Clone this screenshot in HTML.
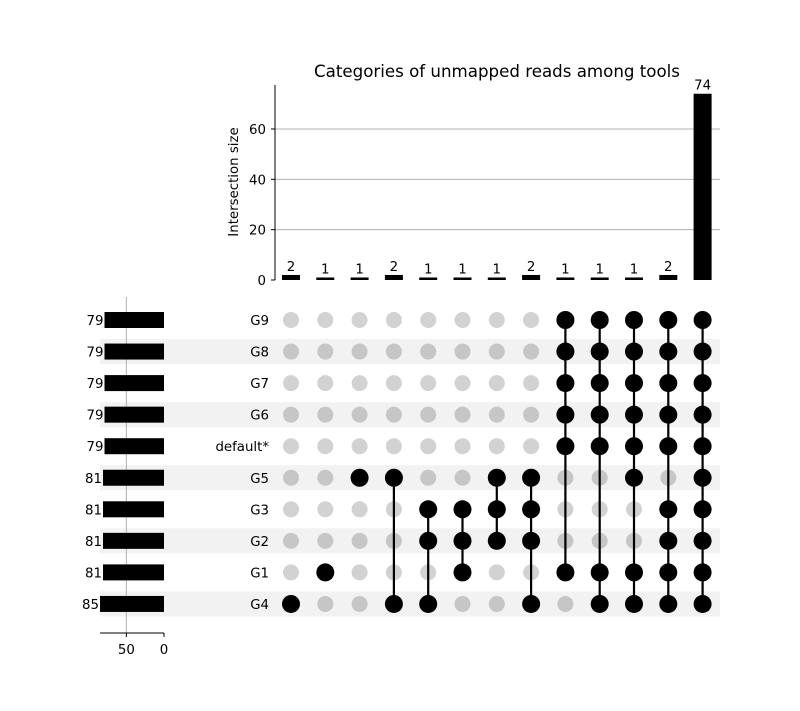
<!DOCTYPE html>
<html><head><meta charset="utf-8"><style>
html,body{margin:0;padding:0;background:#fff;}
svg{display:block;font-family:"DejaVu Sans","Liberation Sans",sans-serif;}
</style></head><body>
<svg id="chart" width="800" height="711" viewBox="0 0 800 711"></svg>
<script>
const sets = ["G9","G8","G7","G6","default*","G5","G3","G2","G1","G4"];
const setSizes = [79,79,79,79,79,81,81,81,81,85];
const intersectionSizes = [2,1,1,2,1,1,1,2,1,1,1,2,74];
const memberships = [
  ["G4"],
  ["G1"],
  ["G5"],
  ["G5","G4"],
  ["G3","G2","G4"],
  ["G3","G2","G1"],
  ["G5","G3","G2"],
  ["G5","G3","G2","G4"],
  ["G9","G8","G7","G6","default*","G1"],
  ["G9","G8","G7","G6","default*","G1","G4"],
  ["G9","G8","G7","G6","default*","G5","G1","G4"],
  ["G9","G8","G7","G6","default*","G3","G2","G1","G4"],
  ["G9","G8","G7","G6","default*","G5","G3","G2","G1","G4"]
];
const yTicks = [0,20,40,60];
const xTicksSet = [50,0];

const NS="http://www.w3.org/2000/svg";
const svg=document.getElementById('chart');
const FS=13.33;
function mk(tag,attrs,parent){const e=document.createElementNS(NS,tag);for(const k in attrs)e.setAttribute(k,attrs[k]);(parent||svg).appendChild(e);return e;}
const colX=i=>291+i*34.3;
const rowY=j=>320+j*31.55;
const yBar=v=>280-v*2.517;
const xSet=v=>164-v*0.753;

sets.forEach((s,j)=>{ if(j%2===1){
  const r=mk('rect',{x:100,y:rowY(j)-12.5,width:620,height:25,fill:'#f2f2f2'});
  
  
}});
xTicksSet.forEach(t=>{
  if(t!==0){const g=mk('line',{x1:xSet(t),x2:xSet(t),y1:297,y2:633,stroke:'#b0b0b0','stroke-width':1});
  
  }
});
sets.forEach((s,j)=>{
  const b=mk('rect',{x:xSet(setSizes[j]),y:rowY(j)-8,width:164-xSet(setSizes[j]),height:16,fill:'#000'});
  
  
  const t=mk('text',{x:xSet(setSizes[j])-1,y:rowY(j)+5,'text-anchor':'end','font-size':FS,fill:'#000'});
  t.textContent=setSizes[j];
  
  
  const n=mk('text',{x:269,y:rowY(j)+5,'text-anchor':'end','font-size':FS,fill:'#000'});
  n.textContent=s;
  
  
});
const sa=mk('line',{x1:100,x2:164,y1:633,y2:633,stroke:'#000','stroke-width':1});


xTicksSet.forEach(t=>{
  mk('line',{x1:xSet(t),x2:xSet(t),y1:633,y2:637,stroke:'#000'});
  const l=mk('text',{x:xSet(t),y:654,'text-anchor':'middle','font-size':FS});
  l.textContent=t;
  
  
});
yTicks.forEach(t=>{
  if(t>0){const g=mk('line',{x1:275,x2:720,y1:yBar(t),y2:yBar(t),stroke:'#b0b0b0','stroke-width':1});
  
  }
  mk('line',{x1:271,x2:275,y1:yBar(t),y2:yBar(t),stroke:'#000'});
  const l=mk('text',{x:266,y:yBar(t)+5,'text-anchor':'end','font-size':FS});
  l.textContent=t;
  
  
});
const ya=mk('line',{x1:275,x2:275,y1:85,y2:280,stroke:'#000'});


const yt=mk('text',{x:238,y:182,'text-anchor':'middle','font-size':FS,transform:'rotate(-90 238 182)'});
yt.textContent='Intersection size';


const tt=mk('text',{x:497,y:77,'text-anchor':'middle','font-size':16.67});
tt.textContent='Categories of unmapped reads among tools';


intersectionSizes.forEach((v,i)=>{
  const b=mk('rect',{x:colX(i)-9,y:yBar(v),width:18,height:280-yBar(v),fill:'#000'});
  
  
  const l=mk('text',{x:colX(i),y:yBar(v)-4,'text-anchor':'middle','font-size':FS});
  l.textContent=v;
  
  
});
memberships.forEach((m,i)=>{
  const idx=m.map(s=>sets.indexOf(s));
  sets.forEach((s,j)=>{
    const on=idx.includes(j);
    const c=mk('circle',{cx:colX(i),cy:rowY(j),r:on?9:8,fill:on?'#000':(j%2===1?'#c6c6c6':'#d2d2d2')});
    
    
  });
  if(idx.length>1){
    const ln=mk('line',{x1:colX(i),x2:colX(i),y1:rowY(Math.min(...idx)),y2:rowY(Math.max(...idx)),stroke:'#000','stroke-width':2.2});
    
    
  }
});
</script>
</body></html>
